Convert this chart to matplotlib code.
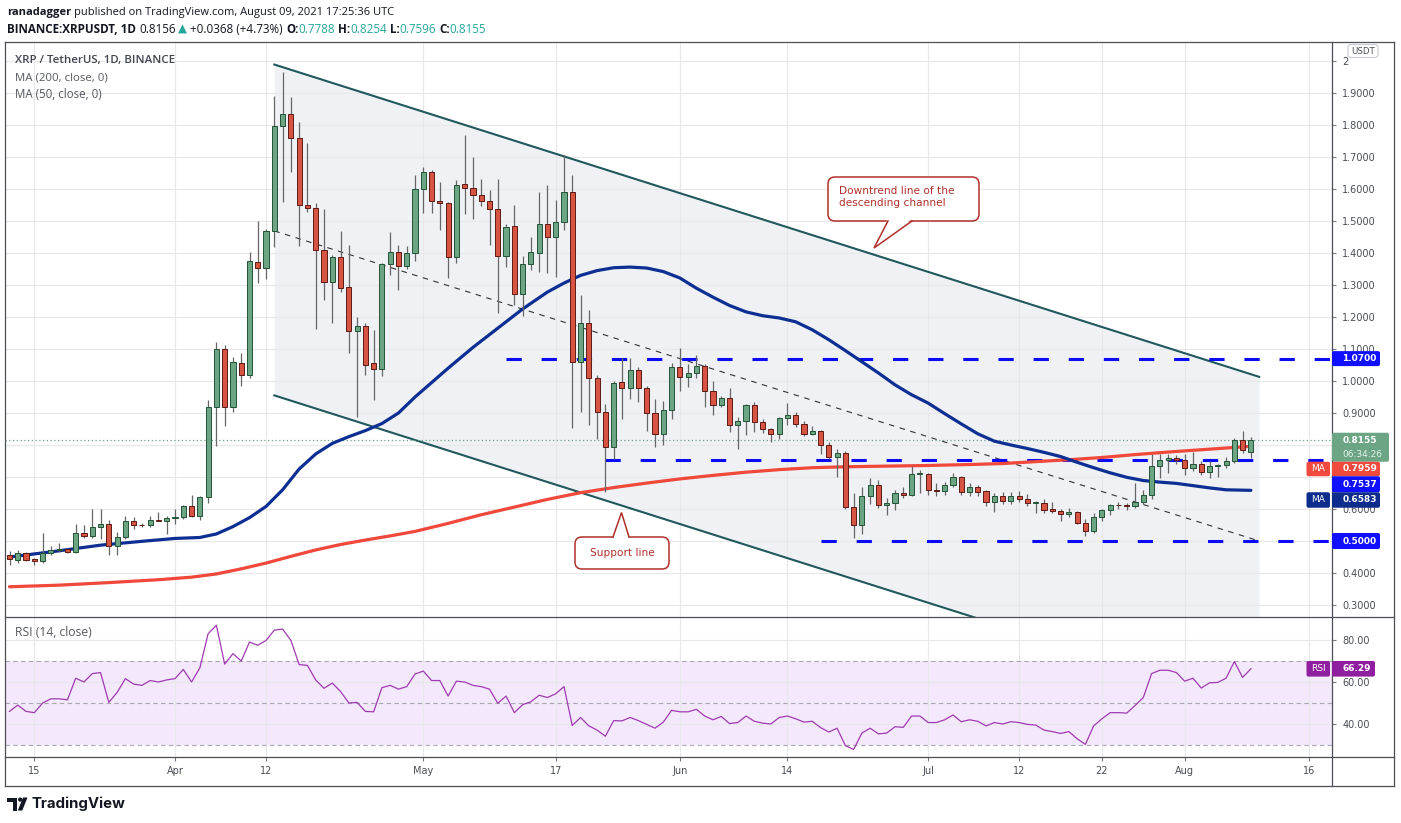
import numpy as np
import pandas as pd
import matplotlib
matplotlib.use("Agg")
import matplotlib.pyplot as plt
import matplotlib.dates as mdates
from matplotlib.patches import FancyBboxPatch, Polygon, Circle

W, H = 1401, 823

# ---------------- data ----------------
dates = pd.date_range("2021-03-12", "2021-08-09", freq="D")

opens = [0.456, 0.442, 0.461, 0.443, 0.439, 0.461, 0.471, 0.474, 0.467, 0.526,
         0.517, 0.545, 0.553, 0.483, 0.513, 0.564, 0.551, 0.549, 0.567, 0.564,
         0.571, 0.575, 0.609, 0.579, 0.638, 0.919, 1.100, 0.919, 1.055, 1.019,
         1.371, 1.353, 1.468, 1.798, 1.835, 1.759, 1.549, 1.541, 1.409, 1.309,
         1.387, 1.295, 1.155, 1.173, 1.055, 1.037, 1.366, 1.403, 1.359, 1.399,
         1.601, 1.653, 1.564, 1.557, 1.387, 1.616, 1.603, 1.580, 1.564, 1.536,
         1.391, 1.483, 1.273, 1.365, 1.399, 1.492, 1.451, 1.498, 1.592, 1.059,
         1.180, 1.010, 0.904, 0.793, 0.996, 0.978, 1.034, 0.978, 0.900, 0.833,
         0.908, 1.044, 1.012, 1.025, 1.047, 0.970, 0.924, 0.948, 0.864, 0.874,
         0.924, 0.871, 0.849, 0.833, 0.885, 0.894, 0.867, 0.835, 0.845, 0.801,
         0.761, 0.775, 0.606, 0.549, 0.641, 0.675, 0.613, 0.619, 0.650, 0.645,
         0.709, 0.709, 0.660, 0.657, 0.675, 0.700, 0.653, 0.668, 0.656, 0.623,
         0.641, 0.626, 0.641, 0.631, 0.620, 0.620, 0.601, 0.594, 0.583, 0.591,
         0.557, 0.530, 0.575, 0.597, 0.613, 0.613, 0.609, 0.623, 0.645, 0.734,
         0.753, 0.759, 0.752, 0.727, 0.742, 0.716, 0.734, 0.736, 0.749, 0.815,
         0.7788]
highs = [0.468, 0.471, 0.466, 0.448, 0.524, 0.483, 0.493, 0.478, 0.553, 0.550,
         0.601, 0.601, 0.565, 0.528, 0.579, 0.576, 0.555, 0.579, 0.590, 0.579,
         0.601, 0.612, 0.645, 0.641, 0.941, 1.123, 1.111, 1.074, 1.089, 1.402,
         1.499, 1.476, 1.891, 1.967, 1.886, 1.809, 1.743, 1.555, 1.536, 1.395,
         1.468, 1.424, 1.199, 1.180, 1.158, 1.370, 1.465, 1.424, 1.421, 1.643,
         1.669, 1.660, 1.623, 1.560, 1.628, 1.768, 1.699, 1.632, 1.598, 1.631,
         1.492, 1.549, 1.391, 1.451, 1.591, 1.613, 1.566, 1.705, 1.645, 1.270,
         1.222, 1.019, 0.929, 1.000, 1.071, 1.071, 1.044, 0.985, 0.944, 0.938,
         1.055, 1.103, 1.052, 1.081, 1.052, 1.000, 0.952, 0.978, 0.889, 0.927,
         0.934, 0.882, 0.852, 0.889, 0.931, 0.904, 0.874, 0.860, 0.848, 0.808,
         0.786, 0.781, 0.650, 0.668, 0.697, 0.690, 0.635, 0.660, 0.668, 0.734,
         0.722, 0.712, 0.682, 0.685, 0.712, 0.703, 0.682, 0.675, 0.660, 0.650,
         0.653, 0.653, 0.656, 0.648, 0.626, 0.631, 0.623, 0.601, 0.604, 0.594,
         0.568, 0.586, 0.601, 0.616, 0.623, 0.619, 0.682, 0.660, 0.771, 0.771,
         0.771, 0.768, 0.771, 0.778, 0.749, 0.749, 0.742, 0.761, 0.823, 0.845,
         0.8254]
lows = [0.424, 0.431, 0.437, 0.424, 0.431, 0.456, 0.465, 0.462, 0.462, 0.508,
        0.510, 0.505, 0.456, 0.456, 0.505, 0.538, 0.545, 0.545, 0.562, 0.523,
        0.552, 0.570, 0.575, 0.567, 0.620, 0.798, 0.860, 0.904, 0.985, 1.010,
        1.306, 1.318, 1.418, 1.558, 1.653, 1.421, 1.529, 1.161, 1.254, 1.180,
        1.278, 1.086, 0.886, 1.018, 0.941, 1.015, 1.332, 1.284, 1.350, 1.374,
        1.524, 1.524, 1.473, 1.321, 1.369, 1.521, 1.505, 1.548, 1.425, 1.214,
        1.355, 1.236, 1.202, 1.347, 1.340, 1.337, 1.325, 1.473, 0.852, 0.904,
        0.863, 0.818, 0.653, 0.756, 0.882, 0.945, 0.934, 0.845, 0.793, 0.801,
        0.882, 0.970, 0.981, 1.010, 0.919, 0.894, 0.920, 0.840, 0.786, 0.830,
        0.840, 0.838, 0.808, 0.820, 0.863, 0.857, 0.827, 0.830, 0.771, 0.756,
        0.700, 0.600, 0.510, 0.523, 0.616, 0.604, 0.582, 0.597, 0.634, 0.640,
        0.650, 0.645, 0.640, 0.645, 0.668, 0.645, 0.641, 0.641, 0.609, 0.591,
        0.616, 0.616, 0.623, 0.609, 0.589, 0.589, 0.589, 0.561, 0.574, 0.552,
        0.517, 0.524, 0.564, 0.580, 0.600, 0.597, 0.604, 0.616, 0.631, 0.697,
        0.712, 0.740, 0.705, 0.720, 0.705, 0.697, 0.700, 0.727, 0.745, 0.775,
        0.7596]
closes = [0.443, 0.461, 0.442, 0.439, 0.461, 0.471, 0.474, 0.467, 0.526, 0.517,
          0.545, 0.553, 0.483, 0.513, 0.564, 0.549, 0.549, 0.567, 0.564, 0.572,
          0.575, 0.609, 0.579, 0.638, 0.919, 1.100, 0.919, 1.059, 1.019, 1.374,
          1.353, 1.468, 1.798, 1.835, 1.759, 1.549, 1.541, 1.409, 1.309, 1.387,
          1.292, 1.155, 1.173, 1.049, 1.037, 1.366, 1.403, 1.359, 1.399, 1.601,
          1.653, 1.564, 1.557, 1.387, 1.613, 1.603, 1.580, 1.564, 1.536, 1.391,
          1.480, 1.273, 1.365, 1.402, 1.492, 1.451, 1.498, 1.592, 1.059, 1.180,
          1.010, 0.904, 0.793, 0.993, 0.978, 1.034, 0.978, 0.900, 0.833, 0.908,
          1.044, 1.012, 1.025, 1.047, 0.970, 0.924, 0.948, 0.864, 0.874, 0.924,
          0.871, 0.849, 0.833, 0.885, 0.894, 0.867, 0.835, 0.845, 0.801, 0.761,
          0.775, 0.606, 0.549, 0.641, 0.675, 0.613, 0.619, 0.650, 0.645, 0.709,
          0.712, 0.660, 0.656, 0.675, 0.700, 0.653, 0.668, 0.653, 0.623, 0.641,
          0.626, 0.641, 0.631, 0.620, 0.622, 0.598, 0.594, 0.583, 0.591, 0.557,
          0.530, 0.575, 0.597, 0.613, 0.612, 0.609, 0.623, 0.645, 0.734, 0.753,
          0.758, 0.752, 0.727, 0.742, 0.716, 0.734, 0.736, 0.749, 0.815, 0.783,
          0.8155]

rsi_values = [46, 49, 46, 45.4, 50, 52, 52, 51.5, 61.8, 60,
              64, 64.5, 50.3, 55, 61.6, 59, 58.4, 60.7, 60, 61,
              61.6, 66, 60, 66.7, 83, 87, 68.5, 73.5, 70, 79,
              77.5, 79.8, 84.7, 85.2, 79.8, 68.3, 67.9, 61, 57, 59.5,
              55.5, 50, 50.3, 46, 45.8, 57.3, 58.4, 56.6, 57.8, 63.8,
              65.2, 60.7, 60.7, 53.3, 60.4, 60, 58.4, 57.8, 56.6, 49.9,
              53.3, 45.4, 49.2, 50.6, 53.7, 52.6, 54.4, 57.8, 39.3, 43.1,
              39.1, 37.1, 34.2, 41.6, 41.5, 43.1, 41.6, 39.8, 38, 40.9,
              46.5, 45.8, 45.8, 47, 43.8, 42, 43.6, 40.2, 40.7, 43.8,
              41.3, 40.4, 40, 43.1, 43.8, 42.5, 40.9, 41.3, 38.3, 36.2,
              38, 29.7, 27.9, 35.7, 38, 35.3, 35.7, 38.7, 38.4, 43.8,
              43.8, 40.7, 40.7, 42, 44.3, 41.1, 42, 41.3, 39.1, 40.7,
              40, 41.1, 40.7, 39.8, 39.5, 37.1, 36.4, 35.5, 36.4, 33,
              30.3, 39.1, 42.5, 45.4, 45.4, 45.2, 48.8, 52.6, 64, 65.6,
              65.6, 64.5, 60.4, 61.8, 57.1, 59.6, 59.8, 61.8, 69.7, 62.2,
              66.29]

# moving averages read at sample days (index into dates)
ma50_day = [0, 5, 11, 16, 20, 23, 25, 27, 29, 31, 33, 35, 37, 39, 41, 43, 45, 47, 49, 51,
            53, 56, 59, 62, 65, 67, 69, 71, 73, 75, 77, 79, 81, 83, 85, 87, 89, 91, 93,
            95, 97, 99, 101, 103, 105, 107, 109, 111, 113, 115, 117, 119, 121, 123, 125,
            127, 129, 131, 133, 135, 137, 139, 141, 143, 145, 147, 150]
ma50_val = [0.450, 0.466, 0.487, 0.499, 0.508, 0.511, 0.522, 0.545, 0.573, 0.608, 0.660,
            0.725, 0.772, 0.805, 0.826, 0.845, 0.867, 0.900, 0.950, 0.995, 1.040, 1.105,
            1.165, 1.225, 1.278, 1.306, 1.330, 1.345, 1.354, 1.356, 1.353, 1.342, 1.322,
            1.290, 1.262, 1.236, 1.216, 1.204, 1.197, 1.185, 1.160, 1.129, 1.095, 1.060,
            1.025, 0.988, 0.957, 0.931, 0.898, 0.866, 0.835, 0.812, 0.800, 0.789, 0.777,
            0.764, 0.746, 0.729, 0.713, 0.699, 0.689, 0.684, 0.680, 0.673, 0.666, 0.660,
            0.6583]
ma200_day = [0, 6, 12, 18, 22, 25, 28, 31, 34, 37, 40, 43, 46, 49, 53, 57, 61, 65, 69,
             73, 77, 81, 85, 89, 93, 97, 101, 106, 111, 116, 120, 124, 128, 132, 136,
             140, 145, 150]
ma200_val = [0.357, 0.362, 0.370, 0.379, 0.387, 0.397, 0.413, 0.431, 0.452, 0.472, 0.489,
             0.503, 0.516, 0.530, 0.555, 0.582, 0.606, 0.630, 0.651, 0.667, 0.681, 0.694,
             0.705, 0.715, 0.723, 0.729, 0.732, 0.734, 0.736, 0.739, 0.742, 0.748, 0.754,
             0.761, 0.770, 0.778, 0.787, 0.7959]

# drawings
channel_dates = ["2021-04-13", "2021-08-10"]
channel_upper = [1.989, 1.013]
channel_lower = [0.955, -0.021]
midline_dates = ["2021-04-13", "2021-08-10"]
midline_vals = [1.469, 0.500]
level_starts = ["2021-05-11", "2021-05-23", "2021-06-18"]
level_vals = [1.07, 0.7537, 0.50]
last_price = 0.8155

price_ticks = [0.3, 0.4, 0.5, 0.6, 0.7, 0.8, 0.9, 1.0, 1.1, 1.2, 1.3, 1.4, 1.5, 1.6,
               1.7, 1.8, 1.9, 2.0]
price_tick_labels = ["0.3000", "0.4000", "0.5000", "0.6000", "0.7000", "0.8000", "0.9000",
                     "1.0000", "1.1000", "1.2000", "1.3000", "1.4000", "1.5000", "1.6000",
                     "1.7000", "1.8000", "1.9000", "2"]
rsi_ticks = [40, 60, 80]
rsi_tick_labels = ["40.00", "60.00", "80.00"]
time_ticks = ["2021-03-15", "2021-04-01", "2021-04-12", "2021-05-01", "2021-05-17",
              "2021-06-01", "2021-06-14", "2021-07-01", "2021-07-12", "2021-07-22",
              "2021-08-01", "2021-08-16"]
time_tick_labels = ["15", "Apr", "12", "May", "17", "Jun", "14", "Jul", "12", "22",
                    "Aug", "16"]

# ---------------- styles ----------------
GREEN_F, GREEN_E = "#6ba583", "#225437"
RED_F, RED_E = "#d75442", "#5b1a13"
WICK = "#666666"
GRID = "#e8e8ea"
MA50_C = "#0d2e92"
MA200_C = "#f0483a"
LEVEL_C = "#0a0af5"
CHAN_C = "#21585c"
CHAN_FILL = "#eff1f4"
RSI_C = "#a03ab2"
RSI_FILL = "#f3e8fc"
TXT = "#4a4d57"
CALL_C = "#b0302a"
FRAME = "#4d4f57"

fig = plt.figure(figsize=(W / 100, H / 100), dpi=100)
fig.patch.set_facecolor("white")
L, R = 5, 1332
ax = fig.add_axes([L / W, 1 - 617 / H, (R - L) / W, (617 - 42) / H])
axr = fig.add_axes([L / W, 1 - 757 / H, (R - L) / W, (757 - 617) / H], sharex=ax)
ov = fig.add_axes([0, 0, 1, 1], zorder=10)
ov.set_xlim(0, W)
ov.set_ylim(H, 0)
ov.axis("off")
ov.patch.set_alpha(0)

x = mdates.date2num(dates)
o, h, l, c = map(np.array, (opens, highs, lows, closes))
x0 = x[0] - 0.544
x1 = x[0] + 159.8

for a in (ax, axr):
    for s in a.spines.values():
        s.set_visible(False)
    a.set_xlim(x0, x1)

ax.set_ylim(0.2625, 2.0594)
axr.set_ylim(24.29, 90.95)

# grid
tt = mdates.date2num(pd.to_datetime(time_ticks))
for d in tt:
    ax.axvline(d, color=GRID, lw=0.8, zorder=0.8)
    axr.axvline(d, color=GRID, lw=0.8, zorder=0.8)
for v in price_ticks:
    ax.axhline(v, color=GRID, lw=0.8, zorder=0.8)
for v in rsi_ticks:
    axr.axhline(v, color=GRID, lw=0.8, zorder=0.8)

# channel
cd = mdates.date2num(pd.to_datetime(channel_dates))
ax.fill_between(cd, channel_lower, channel_upper, color=CHAN_FILL, lw=0, zorder=0.5)
ax.plot(cd, channel_upper, color=CHAN_C, lw=1.5, zorder=2)
ax.plot(cd, channel_lower, color=CHAN_C, lw=1.5, zorder=2)
md = mdates.date2num(pd.to_datetime(midline_dates))
ax.plot(md, midline_vals, color="#333333", lw=0.8, dashes=(5, 5), zorder=2)

# horizontal levels
for s, v in zip(level_starts, level_vals):
    sx = mdates.date2num(pd.Timestamp(s))
    ax.plot([sx, x1], [v, v], color=LEVEL_C, lw=2.2, dashes=(5, 6.5), zorder=2.5,
            solid_capstyle="butt", dash_capstyle="butt")

ax.axhline(last_price, color=GREEN_F, lw=0.9, ls=(0, (1, 2)), zorder=2)

# moving averages
ax.plot(x[ma200_day], ma200_val, color=MA200_C, lw=2.3, zorder=2.7,
        solid_capstyle="round", solid_joinstyle="round")
ax.plot(x[ma50_day], ma50_val, color=MA50_C, lw=2.3, zorder=2.7,
        solid_capstyle="round", solid_joinstyle="round")

# candles
up = c >= o
bot = np.minimum(o, c)
bh = np.maximum(np.abs(c - o), 0.002)
ax.vlines(x, l, h, color=WICK, lw=0.9, zorder=3)
ax.bar(x[up], bh[up], bottom=bot[up], width=0.62, color=GREEN_F, edgecolor=GREEN_E,
       linewidth=0.7, zorder=4)
ax.bar(x[~up], bh[~up], bottom=bot[~up], width=0.62, color=RED_F, edgecolor=RED_E,
       linewidth=0.7, zorder=4)

# RSI
axr.axhspan(30, 70, color=RSI_FILL, lw=0, zorder=0.5)
for v in (30, 50, 70):
    axr.axhline(v, color="#a9a9ad", lw=0.8, dashes=(4, 3), zorder=1)
axr.plot(x, rsi_values, color=RSI_C, lw=0.9, zorder=3)

# ticks
ax.yaxis.tick_right()
ax.set_yticks(price_ticks)
ax.set_yticklabels(price_tick_labels)
axr.yaxis.tick_right()
axr.set_yticks(rsi_ticks)
axr.set_yticklabels(rsi_tick_labels)
for a in (ax, axr):
    a.tick_params(axis="y", length=3, width=0.8, color="#787b86", pad=4.5,
                  labelsize=7, labelcolor=TXT)
axr.set_xticks(tt)
axr.set_xticklabels(time_tick_labels)
axr.tick_params(axis="x", length=3, width=0.8, color="#787b86", pad=3.5, labelsize=7,
                labelcolor=TXT)
ax.tick_params(axis="x", length=0, labelbottom=False)

# frame
for (xa, ya, xb, yb) in [(5, 42, 1394, 42), (5, 786, 1394, 786), (5, 42, 5, 786),
                         (1394, 42, 1394, 786), (1332, 42, 1332, 786),
                         (5, 617, 1394, 617), (5, 757, 1394, 757)]:
    ov.plot([xa, xb], [ya, yb], color=FRAME, lw=0.9, solid_capstyle="projecting")

fig.canvas.draw()
renderer = fig.canvas.get_renderer()


def space_w(sz, wt, fam):
    t1 = ov.text(0, 0, "x x", fontsize=sz, fontweight=wt, family=fam)
    t2 = ov.text(0, 0, "xx", fontsize=sz, fontweight=wt, family=fam)
    w = t1.get_window_extent(renderer).width - t2.get_window_extent(renderer).width
    t1.remove()
    t2.remove()
    return w


def pieces_line(xs, y, pieces, size, target, fam):
    def place(sz):
        arts = []
        cx = xs
        for gap, s, col, wt in pieces:
            if gap:
                cx += space_w(sz, wt, fam)
            t = ov.text(cx, y, s, fontsize=sz, color=col, fontweight=wt, family=fam,
                        ha="left", va="center")
            cx += t.get_window_extent(renderer).width
            arts.append(t)
        return arts, cx - xs
    arts, w = place(size)
    if target:
        for a_ in arts:
            a_.remove()
        arts, w = place(size * target / w)
    return arts


HF = ["Open Sans", "DejaVu Sans"]
DARK = "#131722"
TEAL = "#26a69a"
pieces_line(7, 12, [(False, "ranadagger", DARK, "bold"),
                    (True, "published on TradingView.com, August 09, 2021 17:25:36 UTC", DARK, "normal")],
            8, 390, HF)
pieces_line(7, 29, [(False, "BINANCE:XRPUSDT, 1D", DARK, "bold"),
                    (True, "0.8156", DARK, "normal"),
                    (True, "\u25B2", TEAL, "normal"),
                    (True, "+0.0368 (+4.73%)", DARK, "normal"),
                    (True, "O:", DARK, "bold"), (False, "0.7788", TEAL, "normal"),
                    (True, "H:", DARK, "bold"), (False, "0.8254", TEAL, "normal"),
                    (True, "L:", DARK, "bold"), (False, "0.7596", TEAL, "normal"),
                    (True, "C:", DARK, "bold"), (False, "0.8155", TEAL, "normal")],
            8, 481, HF)

pieces_line(15, 60, [(False, "XRP / TetherUS, 1D, BINANCE", "#434651", "semibold")], 8, 159, HF)
pieces_line(15, 77.5, [(False, "MA (200, close, 0)", "#555860", "normal")], 8, 92, HF)
pieces_line(15, 94, [(False, "MA (50, close, 0)", "#555860", "normal")], 8, 87, HF)
pieces_line(15, 633, [(False, "RSI (14, close)", "#555860", "normal")], 8, 77, HF)


# callouts
def callout(bx0, by0, bx1, by1, base, tip, lines, top_edge):
    ov.add_patch(FancyBboxPatch((bx0, by0), bx1 - bx0, by1 - by0,
                                boxstyle="round,pad=0,rounding_size=7", fc="white",
                                ec=CALL_C, lw=1.1, zorder=20))
    ey = by0 if top_edge else by1
    inner = ey + (2 if top_edge else -2)
    ov.add_patch(Polygon([(base[0], inner), tip, (base[1], inner)], closed=True,
                         fc="white", ec="none", zorder=21))
    ov.plot([base[0], tip[0], base[1]], [ey, tip[1], ey], color=CALL_C, lw=1.1,
            zorder=22, solid_joinstyle="miter")
    for tx, ty, s, ha in lines:
        ov.text(tx, ty, s, color=CALL_C, fontsize=7.6, family="DejaVu Sans", ha=ha,
                va="center", zorder=23)


callout(828, 177, 979, 221, (888, 912), (874, 248),
        [(839, 191, "Downtrend line of the", "left"), (839, 203, "descending channel", "left")],
        False)
callout(575, 537, 669, 569, (613, 629), (621.5, 512.5),
        [(622, 553, "Support line", "center")], True)


# price scale labels
def ypix(a, v):
    return H - a.transData.transform((x[0], v))[1]


boxes = []
LBL_FS = 6.5


def vbox(y0, y1, fc, x_end=1380):
    ov.add_patch(FancyBboxPatch((1332, y0), x_end - 1332, y1 - y0,
                                boxstyle="round,pad=0,rounding_size=2", fc=fc, ec="none",
                                zorder=25))
    boxes.append((y0, y1))


def tag(y0, y1, fc, s):
    ov.add_patch(FancyBboxPatch((1306.5, y0), 23.5, y1 - y0,
                                boxstyle="round,pad=0,rounding_size=2", fc=fc, ec="none",
                                zorder=25))
    ov.text(1318.3, (y0 + y1) / 2, s, color="white", fontsize=LBL_FS, family="DejaVu Sans",
            ha="center", va="center", zorder=26)


def vtext(y, s, col="white", bold=True):
    ov.text(1342.5, y, s, color=col, fontsize=LBL_FS, family="DejaVu Sans",
            fontweight="bold" if bold else "normal", ha="left", va="center", zorder=26)


BLUE_L = "#1010ff"
# 1.07
yc = ypix(ax, level_vals[0])
vbox(yc - 7.5, yc + 7.5, BLUE_L)
vtext(yc, "%.4f" % level_vals[0])
# 0.5
yc = ypix(ax, level_vals[2])
vbox(yc - 8, yc + 8, BLUE_L)
vtext(yc, "%.4f" % level_vals[2])

# stacked group
yc = ypix(ax, last_price)
top = yc - 7.3
vbox(top, top + 29, GREEN_F, 1389)
vtext(yc, "%.4f" % last_price)
vtext(yc + 14, "06:34:26", col="#e6f2ea", bold=False)
nxt = top + 29
stack = [(ma200_val[-1], "#f04a3e", "MA", 14.5),
         (level_vals[1], BLUE_L, None, 16),
         (ma50_val[-1], "#0d2c8c", "MA", 15.5)]
for v, fc, tg, hh in stack:
    y0 = max(ypix(ax, v) - hh / 2, nxt)
    vbox(y0, y0 + hh, fc)
    if tg:
        tag(y0, y0 + hh, fc, tg)
    vtext(y0 + hh / 2, "%.4f" % v)
    nxt = y0 + hh

# hide axis tick labels covered by the price labels
for tv, tl in zip(price_ticks, ax.get_yticklabels()):
    ty = ypix(ax, tv)
    if any(b0 - 1 <= ty <= b1 + 1 for b0, b1 in boxes):
        tl.set_visible(False)

# RSI label
yc = ypix(axr, rsi_values[-1])
ov.add_patch(FancyBboxPatch((1332, yc - 7.8), 43, 15.6,
                            boxstyle="round,pad=0,rounding_size=2", fc="#8f1f9e",
                            ec="none", zorder=25))
tag(yc - 7.8, yc + 7.8, "#8f1f9e", "RSI")
vtext(yc, "%.2f" % rsi_values[-1])

# USDT badge
ov.add_patch(FancyBboxPatch((1348, 44.5), 30, 13, boxstyle="round,pad=0,rounding_size=3",
                            fc="white", ec="#c9ccd4", lw=0.8, zorder=25))
ov.text(1363, 51, "USDT", color=TXT, fontsize=6.2, family="DejaVu Sans", ha="center",
        va="center", zorder=26)

# TradingView logo
ov.add_patch(Polygon([(7, 797.5), (17, 797.5), (17, 810.5), (12.5, 810.5), (12.5, 801.5),
                      (7, 801.5)], closed=True, fc="#131722", ec="none"))
ov.add_patch(Circle((20.2, 799.6), 2.1, fc="#131722", ec="none"))
ov.add_patch(Polygon([(17.8, 810.5), (22.3, 810.5), (27.5, 797.5), (23.0, 797.5)],
                     closed=True, fc="#131722", ec="none"))
pieces_line(31, 804, [(False, "TradingView", "#131722", "bold")], 10, 94,
            ["Inter", "DejaVu Sans"])

fig.savefig("out.png", dpi=100, facecolor="white")
